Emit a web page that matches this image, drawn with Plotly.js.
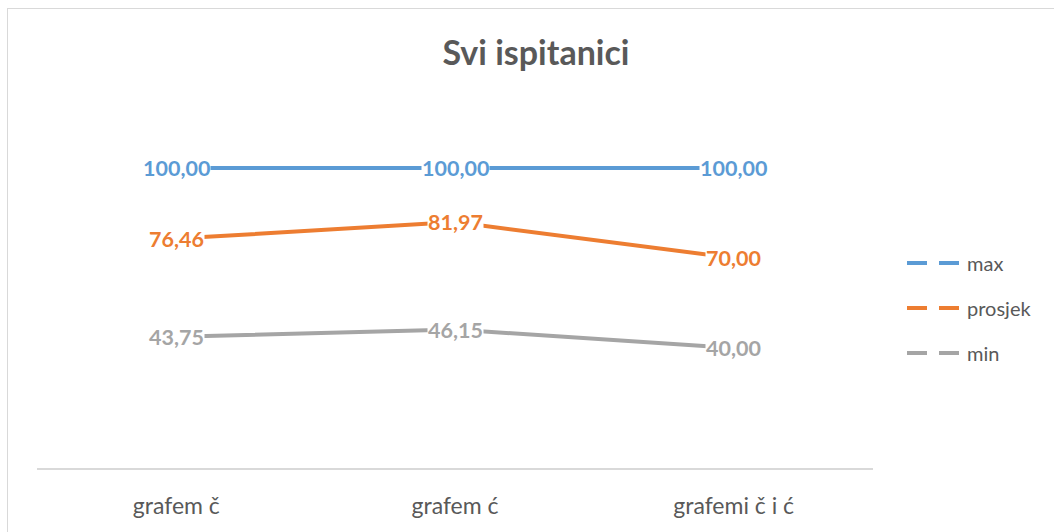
<!DOCTYPE html>
<html>
<head>
<meta charset="utf-8">
<script src="https://cdn.plot.ly/plotly-3.0.1.min.js"></script>
<style>
  html, body { margin:0; padding:0; background:#fff; overflow:hidden; }
  #frame { position:absolute; left:7px; top:8px; width:1060px; height:600px; border:1.5px solid #d9d9d9; box-sizing:border-box; }
  #chart { position:absolute; left:0; top:0; width:1054px; height:532px; }
</style>
</head>
<body>
<div id="frame"></div>
<div id="chart"></div>
<script>
const categories = ['grafem č', 'grafem ć', 'grafemi č i ć'];
const maxValues = [100.00, 100.00, 100.00];
const avgValues = [76.46, 81.97, 70.00];
const minValues = [43.75, 46.15, 40.00];
const seriesNames = ['max', 'prosjek', 'min'];
const colors = ['#5B9BD5', '#ED7D31', '#A5A5A5'];

const fmt = v => v.toFixed(2).replace('.', ',');
const seriesValues = [maxValues, avgValues, minValues];

const traces = [];
const annotations = [];
seriesValues.forEach((vals, i) => {
  traces.push({
    x: categories, y: vals, type: 'scatter', mode: 'lines',
    name: seriesNames[i], legendgroup: 'g' + i, showlegend: false,
    line: { color: colors[i], width: 4 },
    cliponaxis: false, hoverinfo: 'skip'
  });
  vals.forEach((v, j) => {
    annotations.push({
      x: categories[j], y: v, xref: 'x', yref: 'y',
      text: '<b>' + fmt(v) + '</b>', showarrow: false,
      xanchor: 'center', yanchor: 'middle',
      bgcolor: '#ffffff', borderpad: 0,
      font: { family: 'Lato, sans-serif', size: 21.5, color: colors[i] }
    });
  });
});
seriesValues.forEach((vals, i) => {
  traces.push({
    x: [null], y: [null], type: 'scatter', mode: 'lines',
    name: seriesNames[i], legendgroup: 'g' + i, showlegend: true,
    line: { color: colors[i], width: 4, dash: '20px,12px' }
  });
});

const layout = {
  width: 1054, height: 532,
  margin: { l: 37, r: 181, t: 108, b: 64 },
  paper_bgcolor: 'rgba(0,0,0,0)', plot_bgcolor: 'rgba(0,0,0,0)',
  font: { family: 'Lato, sans-serif', color: '#595959' },
  title: {
    text: '<b>Svi ispitanici</b>',
    font: { family: 'Lato, sans-serif', size: 34, color: '#595959' },
    x: 536/1054, xanchor: 'center', xref: 'container',
    y: 1 - 53/532, yanchor: 'middle', yref: 'container'
  },
  xaxis: {
    type: 'category', range: [-0.5, 2.5],
    showgrid: false, zeroline: false,
    showline: true, linecolor: '#d9d9d9', linewidth: 1.5,
    ticks: '', tickfont: { size: 23, color: '#595959' },
    ticklabelstandoff: 17
  },
  yaxis: {
    range: [0, 120], visible: false, showgrid: false, zeroline: false
  },
  annotations: annotations,
  showlegend: true,
  legend: {
    x: 902/1054, xref: 'container', xanchor: 'left',
    y: 1 - 308/532, yref: 'container', yanchor: 'middle',
    font: { size: 20, color: '#595959' },
    tracegroupgap: 16, itemwidth: 55,
    bgcolor: 'rgba(0,0,0,0)'
  }
};

Plotly.newPlot('chart', traces, layout, { displayModeBar: false, staticPlot: true });
</script>
</body>
</html>
